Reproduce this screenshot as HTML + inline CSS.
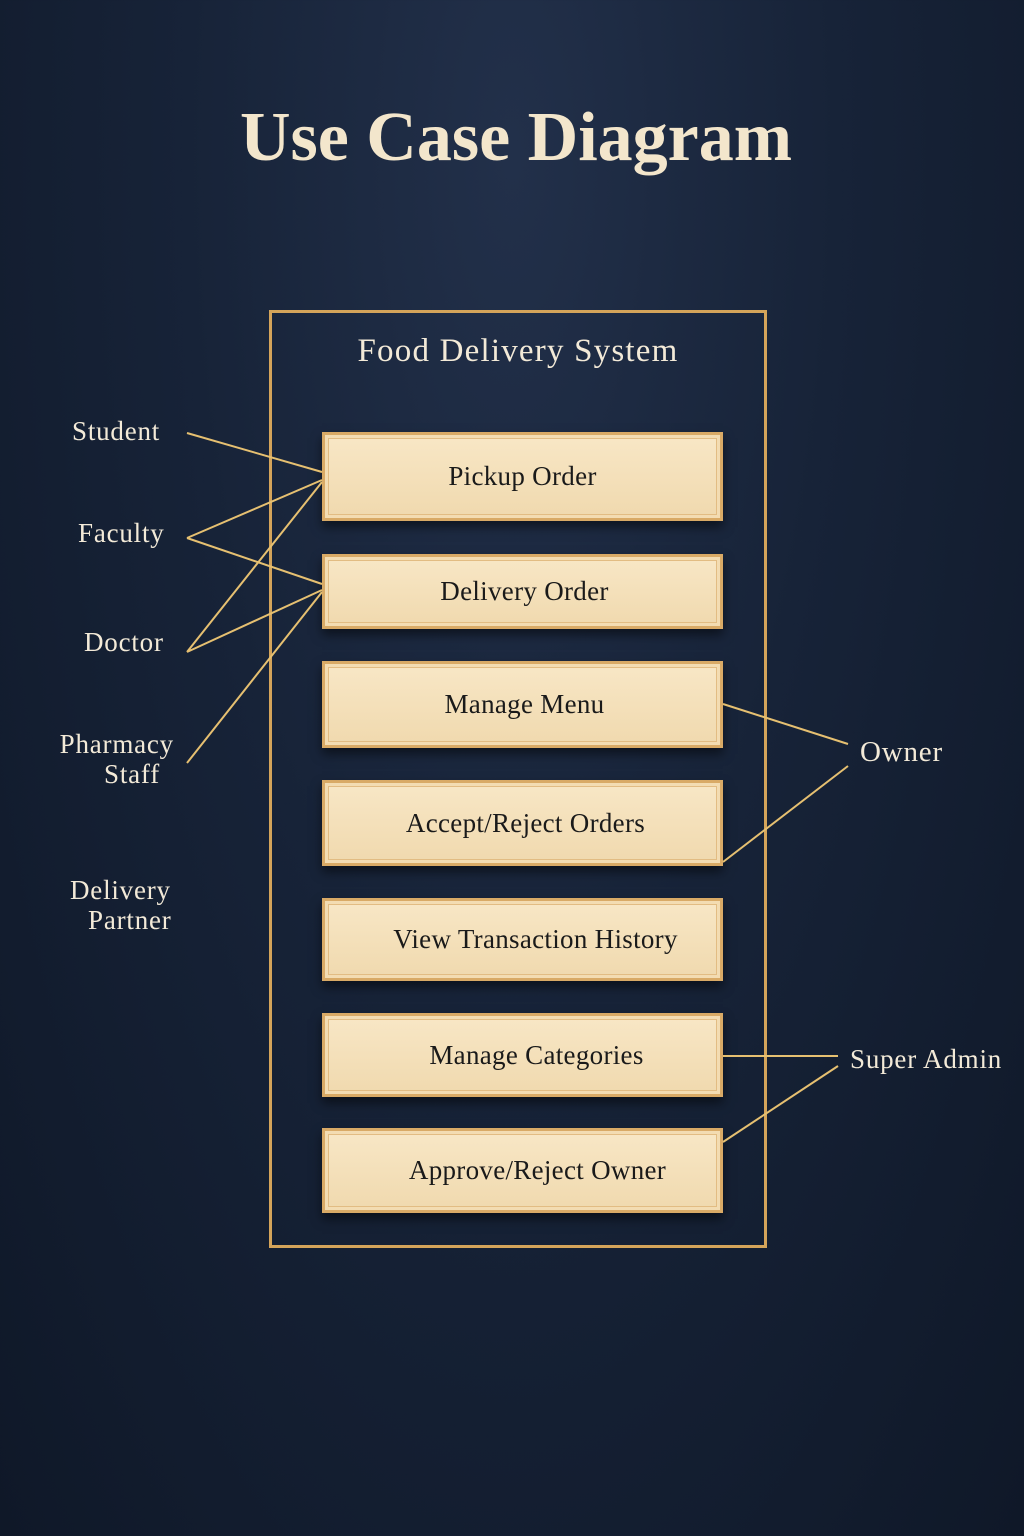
<!DOCTYPE html>
<html><head><meta charset="utf-8"><style>
html,body{margin:0;padding:0}
body{width:1024px;height:1536px;background:radial-gradient(ellipse at 50% 10%,#22304a 0%,#172338 45%,#0f1828 100%);position:relative;overflow:hidden;font-family:"Liberation Serif","DejaVu Serif",serif;color:#f3ead8}
.t{position:absolute;white-space:nowrap}
.box{position:absolute;left:322px;width:401px;background:linear-gradient(#f8e7c6,#f0d9ae);border:3px solid #d9aa66;box-sizing:border-box;box-shadow:0 6px 10px rgba(0,0,0,.5),inset 0 0 0 3px #f3dcb2,inset 0 0 0 4px #e2bc83;color:#1a1a1a;font-size:27px;letter-spacing:0.3px;display:flex;align-items:center;justify-content:center}
.a{position:absolute;font-size:27px;letter-spacing:0.8px;color:#f3ead8;line-height:30px}
</style></head><body>
<div class="t" style="left:0;width:1032px;text-align:center;top:98px;font-size:70px;font-weight:bold;color:#f3e6cc">Use Case Diagram</div>
<div style="position:absolute;left:269px;top:310px;width:498px;height:938px;border:3px solid #d4a45a;box-sizing:border-box"></div>
<div class="t" style="left:269px;width:498px;text-align:center;top:333px;font-size:33px;letter-spacing:1.2px">Food Delivery System</div>
<div class="box" style="top:432px;height:89px">Pickup Order</div>
<div class="box" style="top:554px;height:75px;padding-left:4px">Delivery Order</div>
<div class="box" style="top:661px;height:87px;padding-left:4px">Manage Menu</div>
<div class="box" style="top:780px;height:86px;padding-left:6px">Accept/Reject Orders</div>
<div class="box" style="top:898px;height:83px;padding-left:26px">View Transaction History</div>
<div class="box" style="top:1013px;height:84px;padding-left:28px">Manage Categories</div>
<div class="box" style="top:1128px;height:85px;padding-left:30px">Approve/Reject Owner</div>
<svg width="1024" height="1536" style="position:absolute;left:0;top:0" fill="none" stroke="#e6c071" stroke-width="2">
<path d="M187 433L322 472M187 538L322 480M187 538L322 584M187 652L322 482M187 652L322 590M187 763L322 592M723 704L848 744M723 862L848 766M723 1056L838 1056M723 1142L838 1066"/>
</svg>
<div class="a" style="left:72px;top:416px">Student</div>
<div class="a" style="left:78px;top:518px">Faculty</div>
<div class="a" style="left:84px;top:627px">Doctor</div>
<div class="a" style="left:54px;top:729px;width:120px;text-align:right">Pharmacy</div>
<div class="a" style="left:104px;top:759px">Staff</div>
<div class="a" style="left:70px;top:875px">Delivery</div>
<div class="a" style="left:88px;top:905px">Partner</div>
<div class="a" style="left:860px;top:737px;font-size:29px">Owner</div>
<div class="a" style="left:850px;top:1044px">Super Admin</div>
</body></html>
